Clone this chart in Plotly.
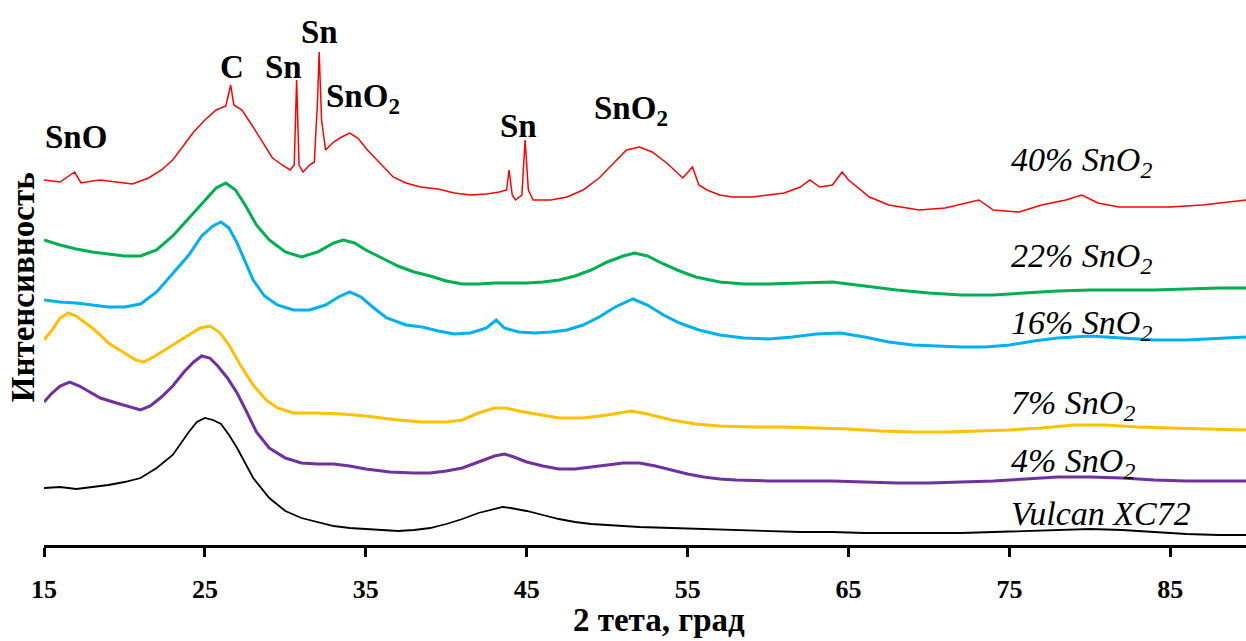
import plotly.graph_objects as go

# ---- data (2θ in degrees, intensity in arbitrary units, offset per sample) ----
vulcan_x = [15, 16, 17, 18, 19, 20, 21, 22, 23, 24, 24.5, 25, 25.5, 26, 26.5, 27, 28, 29, 30, 31, 32, 33, 34, 35, 36, 37, 38, 39, 40, 41, 42, 43, 43.5, 44, 45, 46, 47, 48, 49, 50, 52, 54, 56, 58, 60, 62, 64, 66, 68, 70, 72, 74, 76, 78, 80, 82, 84, 86, 88, 89.7]
vulcan_y = [57, 58, 56, 58, 60, 63, 67, 77, 90, 113, 123, 127, 125, 121, 110, 97, 67, 47, 34, 27, 23, 19, 17, 16, 15, 14, 15, 17, 21, 26, 32, 36, 38, 37, 34, 30, 26, 23, 21, 20, 18, 17, 16, 15, 14, 13, 13, 12, 12, 12, 12, 13, 14, 15, 16, 15, 13, 11, 10, 10]

s4_x = [15, 15.5, 16, 16.6, 17.2, 18, 18.5, 19.5, 20.5, 21, 21.6, 22.3, 23, 23.7, 24.3, 24.8, 25.3, 25.8, 26.4, 27, 27.6, 28.2, 29, 30, 31, 32, 33, 34, 35, 36.5, 38, 39, 40, 41, 42, 43, 43.6, 44.2, 45, 46, 47, 48, 49, 50, 51, 52, 53, 54, 55, 56, 57, 58, 60, 62, 64, 66, 68, 70, 72, 74, 76, 78, 80, 82, 84, 86, 88, 89.7]
s4_y = [143, 152, 159, 163, 159, 152, 147, 142, 137, 135, 139, 148, 159, 173, 183, 189, 187, 179, 167, 152, 133, 113, 97, 87, 82, 81, 81, 79, 76, 73, 72, 72, 74, 77, 83, 89, 91, 88, 83, 79, 76, 76, 78, 80, 82, 82, 79, 75, 71, 68, 66, 65, 64, 64, 64, 63, 62, 62, 63, 64, 66, 68, 68, 67, 65, 64, 64, 64]

s7_x = [15, 15.5, 16, 16.5, 17, 17.5, 18, 18.5, 19, 20, 20.7, 21.2, 21.8, 22.5, 23.2, 24, 24.7, 25.3, 25.9, 26.5, 27.2, 28, 28.8, 29.5, 30.5, 32, 33.5, 35, 37, 38.5, 40, 41, 42, 43, 43.7, 44.5, 45.5, 47, 48.5, 50, 51.5, 52.5, 54, 55.5, 57, 59, 61, 63, 65, 67, 69, 71, 73, 75, 77, 79, 81, 83, 85, 87, 89.7]
s7_y = [205, 215, 227, 232, 229, 223, 217, 210, 202, 192, 185, 183, 188, 195, 202, 210, 217, 219, 213, 200, 180, 160, 145, 137, 132, 132, 131, 129, 125, 123, 123, 125, 132, 137, 137, 134, 131, 127, 127, 130, 134, 131, 125, 121, 119, 118, 118, 117, 116, 114, 113, 113, 114, 115, 117, 120, 120, 118, 117, 116, 115]

s16_x = [15, 16, 17, 18, 19, 20, 21, 22, 23, 24, 24.8, 25.5, 26, 26.5, 27, 27.5, 28, 28.7, 29.5, 30.5, 31.5, 32.5, 33.3, 34, 34.7, 35.5, 36.3, 37.5, 38.5, 39.5, 40.5, 41.5, 42.5, 43.1, 43.6, 44.5, 45.5, 46.5, 47.5, 48.5, 49.5, 50.5, 51.6, 52.5, 53.5, 54.5, 55.7, 57, 58.5, 60, 61.5, 63, 64.5, 66, 67.5, 69, 70.5, 72, 73.5, 75, 76.5, 78, 80, 82, 84, 86, 88, 89.7]
s16_y = [245, 243, 242, 240, 238, 238, 241, 253, 271, 290, 309, 319, 323, 317, 302, 283, 265, 249, 240, 235, 235, 240, 248, 253, 248, 237, 227, 220, 218, 214, 211, 212, 217, 225, 217, 213, 212, 213, 215, 220, 228, 238, 246, 240, 230, 222, 215, 210, 207, 206, 208, 211, 212, 208, 203, 200, 199, 198, 198, 200, 204, 207, 209, 207, 205, 205, 207, 208]

s22_x = [15, 16, 17, 18, 19, 20, 21, 22, 23, 24, 25, 25.7, 26.3, 26.9, 27.5, 28.2, 29, 30, 31, 32, 33, 33.6, 34.3, 35, 36, 37, 38, 39, 40, 41, 42, 43, 44, 45, 46, 47, 48, 49, 50, 51, 51.7, 52.5, 53.5, 54.5, 55.5, 57, 58.5, 60, 62, 64, 66, 68, 70, 72, 74, 76, 78, 80, 82, 84, 86, 88, 89.7]
s22_y = [305, 300, 296, 293, 291, 289, 289, 295, 309, 327, 345, 357, 362, 355, 340, 320, 305, 293, 288, 293, 302, 305, 302, 295, 287, 279, 273, 269, 264, 261, 261, 262, 262, 262, 263, 265, 269, 275, 283, 289, 292, 289, 281, 274, 268, 263, 261, 261, 262, 263, 259, 255, 252, 250, 250, 252, 254, 255, 255, 255, 256, 257, 257]

s40_x = [15, 16, 16.9, 17.3, 18, 18.5, 19.5, 20.5, 21.5, 22.3, 23, 23.7, 24.3, 25, 25.7, 26.3, 26.6, 26.8, 27.3, 28, 28.6, 29.2, 29.8, 30.3, 30.55, 30.7, 30.85, 31.1, 31.5, 31.8, 32.0, 32.1, 32.25, 32.5, 33, 33.5, 34, 34.5, 35.1, 36, 36.7, 37.5, 38.4, 39.5, 40.5, 41.5, 42.5, 43.3, 43.75, 43.9, 44.1, 44.3, 44.7, 44.9, 45.1, 45.4, 46.5, 47.5, 48.5, 49.5, 50.5, 51.2, 52, 52.8, 53.7, 54.7, 55.3, 55.7, 56.2, 57, 57.8, 59, 60, 61, 62, 62.6, 63.2, 64, 64.6, 65, 66.3, 67.5, 69.4, 71, 73.1, 74, 75.6, 77, 78.5, 79.5, 80.5, 81.8, 83.5, 85, 87, 89.7]
s40_y = [365, 363, 373, 362, 364, 365, 363, 361, 367, 375, 385, 400, 413, 425, 435, 439, 460, 440, 435, 418, 402, 387, 380, 375, 380, 465, 380, 373, 380, 383, 445, 493, 425, 395, 403, 408, 412, 407, 395, 380, 368, 362, 358, 356, 352, 350, 351, 353, 355, 375, 350, 345, 350, 405, 355, 345, 345, 348, 355, 367, 383, 395, 398, 393, 382, 367, 378, 360, 355, 350, 348, 348, 350, 352, 358, 365, 358, 360, 373, 365, 348, 340, 335, 337, 345, 335, 333, 340, 345, 350, 342, 338, 338, 338, 340, 345]

series = [
    ("Vulcan XC72", vulcan_x, vulcan_y, "#000000", 1.8),
    ("4% SnO2", s4_x, s4_y, "#7030A0", 3),
    ("7% SnO2", s7_x, s7_y, "#FFC000", 3),
    ("16% SnO2", s16_x, s16_y, "#00B0F0", 3),
    ("22% SnO2", s22_x, s22_y, "#00B050", 3),
    ("40% SnO2", s40_x, s40_y, "#FF0000", 1.5),
]

curve_labels = ["<i>40% SnO<sub>2</sub></i>", "<i>22% SnO<sub>2</sub></i>", "<i>16% SnO<sub>2</sub></i>",
                "<i>7% SnO<sub>2</sub></i>", "<i>4% SnO<sub>2</sub></i>", "<i>Vulcan XC72</i>"]
curve_label_x = [75.0, 75.0, 75.0, 75.0, 75.0, 75.0]
curve_label_y = [383, 287, 220, 140, 82, 32]

phase_labels = ["SnO", "C", "Sn", "Sn", "SnO<sub>2</sub>", "Sn", "SnO<sub>2</sub>"]
phase_x = [17.0, 26.7, 29.9, 32.1, 34.8, 44.5, 51.5]
phase_y = [408, 478, 478, 513, 447, 419, 435]

tick_vals = [15, 25, 35, 45, 55, 65, 75, 85]

fig = go.Figure()
for name, xs, ys, col, w in series:
    fig.add_trace(go.Scatter(x=xs, y=ys, mode="lines", name=name,
                             line=dict(color=col, width=w), showlegend=False))

serif = "Liberation Serif, Times New Roman, serif"
for t, x, y in zip(curve_labels, curve_label_x, curve_label_y):
    fig.add_annotation(x=x, y=y, xref="x", yref="y", text=t, showarrow=False,
                       xanchor="left", yanchor="middle",
                       font=dict(family=serif, size=34, color="#000000"))
for t, x, y in zip(phase_labels, phase_x, phase_y):
    fig.add_annotation(x=x, y=y, xref="x", yref="y", text="<b>" + t + "</b>", showarrow=False,
                       xanchor="center", yanchor="middle",
                       font=dict(family=serif, size=33, color="#000000"))

fig.add_annotation(x=-0.0175, y=0.473, xref="paper", yref="paper", text="<b>Интенсивность</b>",
                   textangle=-90, showarrow=False, xanchor="center", yanchor="middle",
                   font=dict(family=serif, size=33, color="#000000"))
fig.add_annotation(x=0.512, y=-0.138, xref="paper", yref="paper", text="<b>2 тета, град</b>",
                   showarrow=False, xanchor="center", yanchor="middle",
                   font=dict(family=serif, size=33, color="#000000"))

fig.update_layout(
    width=1246, height=641,
    margin=dict(l=44, r=0, t=0, b=96),
    paper_bgcolor="white", plot_bgcolor="white",
    xaxis=dict(range=[15, 89.7], tickmode="array", tickvals=tick_vals,
               ticktext=[str(v) for v in tick_vals], showgrid=False, zeroline=False,
               showline=True, linecolor="black", linewidth=3,
               ticks="outside", ticklen=9, tickwidth=2.5, tickcolor="black",
               ticklabelstandoff=10,
               tickfont=dict(family=serif, size=26, color="black", weight="bold")),
    yaxis=dict(range=[0, 545], visible=False),
)

fig.write_html("out.html")
